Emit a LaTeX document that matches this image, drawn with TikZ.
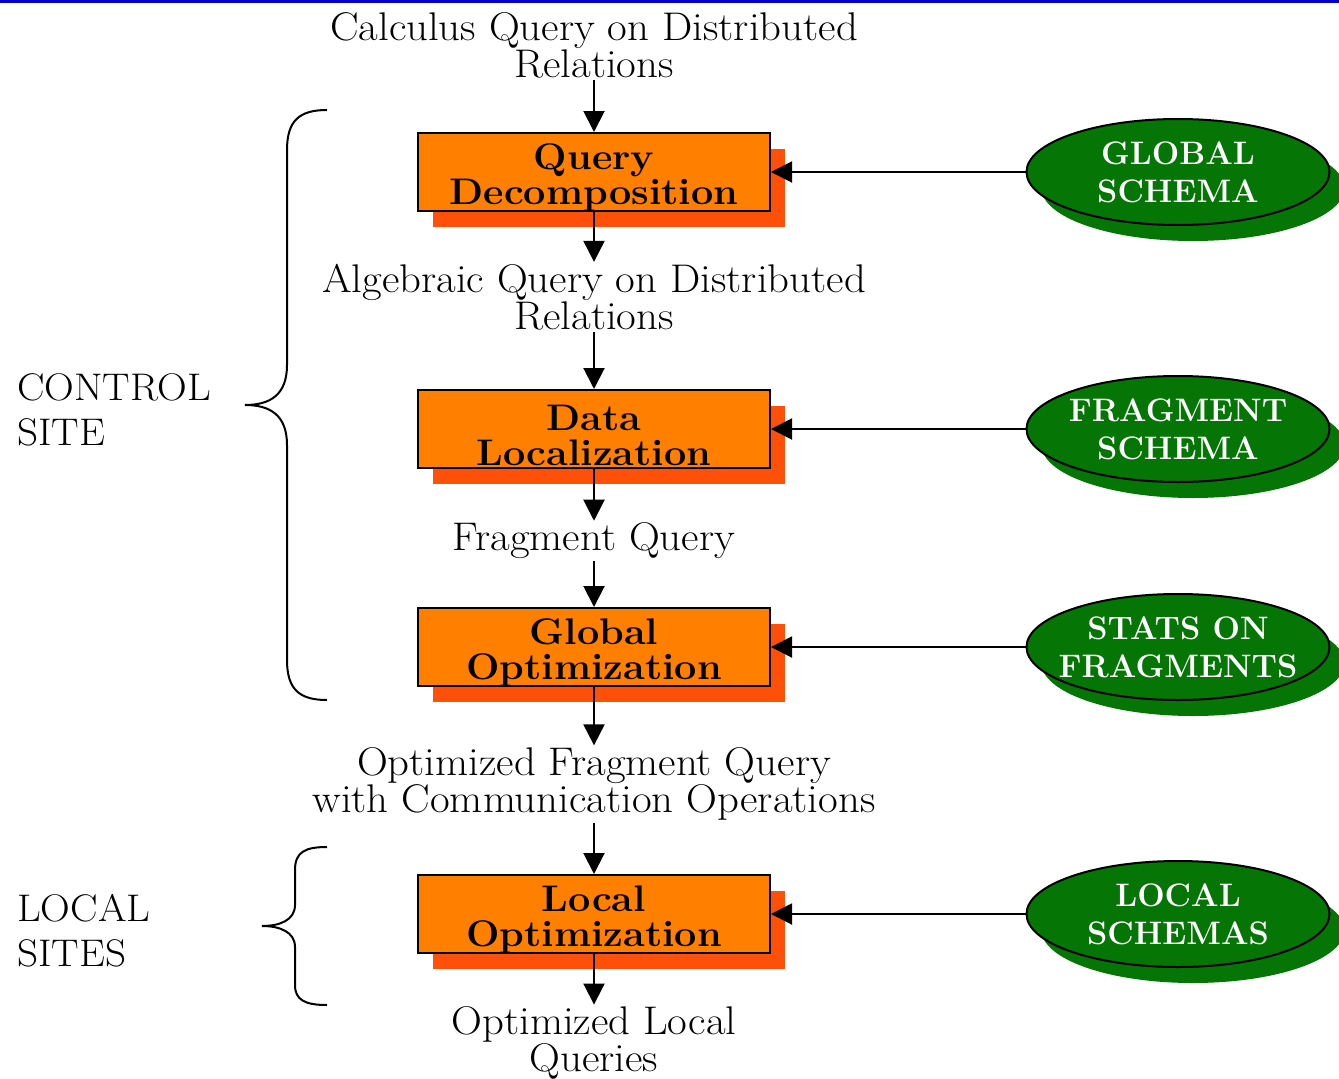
\documentclass[tikz,border=0pt]{standalone}
\usepackage{fontspec}
\newfontfamily\widefont{Latin Modern Roman}[FakeStretch=1.07]
\usetikzlibrary{shapes.geometric,shadows,arrows.meta}
\definecolor{boxorange}{RGB}{255,128,0}
\definecolor{shadoworange}{RGB}{255,80,10}
\definecolor{schemagreen}{RGB}{5,117,5}
\definecolor{topblue}{RGB}{0,0,210}
\begin{document}
\begin{tikzpicture}[x=1pt,y=-1pt,
 txt/.style={font=\widefont\fontsize{40}{34}\selectfont, align=center, inner sep=2pt},
 stepbox/.style={draw=black, line width=2pt, fill=boxorange, minimum width=352pt, minimum height=78pt, inner sep=0pt, drop shadow={shadow xshift=15pt, shadow yshift=-16pt, fill=shadoworange, opacity=1}},
 boxtext/.style={align=center, inner sep=0pt, font=\widefont\bfseries\fontsize{37}{35}\selectfont},
 schema/.style={ellipse, draw=black, line width=2pt, fill=schemagreen, text=white, minimum width=303pt, minimum height=106pt, inner xsep=-20pt, inner ysep=0pt, align=center, font=\bfseries\fontsize{32.5}{38}\selectfont, drop shadow={shadow xshift=15pt, shadow yshift=-16pt, fill=schemagreen, opacity=1}},
 arr/.style={-{Triangle[length=21pt,width=21pt]}, line width=2pt},
 side/.style={font=\widefont\fontsize{38.5}{45}\selectfont, align=left, anchor=west, inner sep=0pt}
]
\useasboundingbox (0,0) rectangle (1339,1079);
\fill[topblue] (0,0) rectangle (1339,3);

\node[txt] (calc) at (594,45) {Calculus Query on Distributed\\Relations};
\node[stepbox] (qd) at (594,172) {};
\node[boxtext] (qdt) at ([yshift=-6pt]qd.center) {Query\\Decomposition};
\node[txt] (alg) at (594,297) {Algebraic Query on Distributed\\Relations};
\node[stepbox] (dl) at (594,429) {};
\node[boxtext] (dlt) at ([yshift=-6pt]dl.center) {Data\\Localization};
\node[txt] (fq) at (594,541) {Fragment Query};
\node[stepbox] (go) at (594,647) {};
\node[boxtext] (got) at ([yshift=-6pt]go.center) {Global\\Optimization};
\node[txt] (ofq) at (594,784) {Optimized Fragment Query\\with Communication Operations};
\node[stepbox] (lo) at (594,914) {};
\node[boxtext] (lot) at ([yshift=-6pt]lo.center) {Local\\Optimization};
\node[txt] (olq) at (594,1043) {Optimized Local\\Queries};

\node[schema] (gs) at (1178,172) {GLOBAL\\SCHEMA};
\node[schema] (fs) at (1178,429) {FRAGMENT\\SCHEMA};
\node[schema] (sf) at (1178,647) {STATS ON\\FRAGMENTS};
\node[schema] (ls) at (1178,914) {LOCAL\\SCHEMAS};

\draw[arr] (calc) -- (qd);
\draw[arr] (qd) -- (alg);
\draw[arr] (alg) -- (dl);
\draw[arr] (dl) -- (fq);
\draw[arr] (fq) -- (go);
\draw[arr] (go) -- (ofq);
\draw[arr] (ofq) -- (lo);
\draw[arr] (lo) -- (olq);

\draw[arr] (gs) -- (qd);
\draw[arr] (fs) -- (dl);
\draw[arr] (sf) -- (go);
\draw[arr] (ls) -- (lo);

\node[side] (ctrl) at (17,410) {CONTROL\\SITE};
\node[side] (loc) at (17,931) {LOCAL\\SITES};

\draw[line width=2pt] (327,110) .. controls (300,110) and (287,120) .. (287,150) -- (287,365) .. controls (287,395) and (270,405) .. (245,405) .. controls (270,405) and (287,415) .. (287,445) -- (287,660) .. controls (287,690) and (300,700) .. (327,700);
\draw[line width=2pt] (327,847) .. controls (305,847) and (295,852) .. (295,870) -- (295,905) .. controls (295,920) and (280,926) .. (262,926) .. controls (280,926) and (295,932) .. (295,947) -- (295,985) .. controls (295,1000) and (305,1005) .. (327,1005);
\end{tikzpicture}
\end{document}
